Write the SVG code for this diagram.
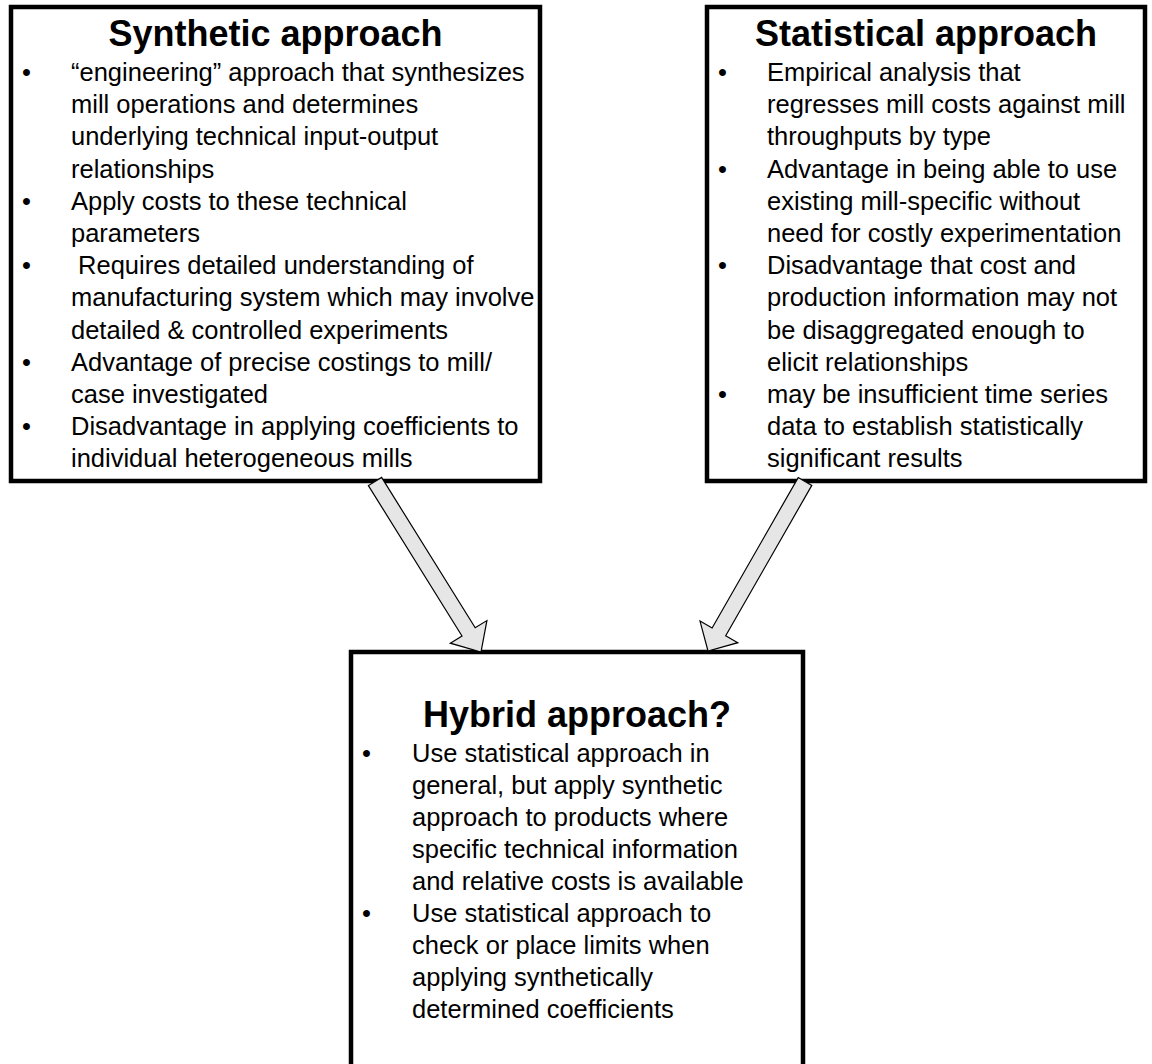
<svg xmlns="http://www.w3.org/2000/svg" width="1152" height="1064" viewBox="0 0 1152 1064">
<style>
.box{fill:#fff;stroke:#000;stroke-width:4.5}
.title{font-family:"Liberation Sans",Arial,sans-serif;font-weight:bold;font-size:36px;text-anchor:middle;fill:#000}
.body{font-family:"Liberation Sans",Arial,sans-serif;font-size:25.5px;fill:#000}
.arrow{fill:#e6e6e6;stroke:#000;stroke-width:1.2;stroke-linejoin:miter}
</style>
<rect width="1152" height="1064" fill="#fff"/>
<g id="synthetic">
<rect class="box" x="11" y="7" width="529" height="474"/>
<text class="title" x="275.5" y="46">Synthetic approach</text>
<text class="body" xml:space="preserve">
<tspan x="22" y="81">•</tspan><tspan x="71" y="81">“engineering” approach that synthesizes</tspan>
<tspan x="71" y="113.2">mill operations and determines</tspan>
<tspan x="71" y="145.4">underlying technical input-output</tspan>
<tspan x="71" y="177.6">relationships</tspan>
<tspan x="22" y="209.8">•</tspan><tspan x="71" y="209.8">Apply costs to these technical</tspan>
<tspan x="71" y="242">parameters</tspan>
<tspan x="22" y="274.2">•</tspan><tspan x="71" y="274.2"> Requires detailed understanding of</tspan>
<tspan x="71" y="306.4">manufacturing system which may involve</tspan>
<tspan x="71" y="338.6">detailed &amp; controlled experiments</tspan>
<tspan x="22" y="370.8">•</tspan><tspan x="71" y="370.8">Advantage of precise costings to mill/</tspan>
<tspan x="71" y="403">case investigated</tspan>
<tspan x="22" y="435.2">•</tspan><tspan x="71" y="435.2">Disadvantage in applying coefficients to</tspan>
<tspan x="71" y="467.4">individual heterogeneous mills</tspan>
</text>
</g>
<g id="statistical">
<rect class="box" x="707" y="7" width="438" height="474"/>
<text class="title" x="926" y="46">Statistical approach</text>
<text class="body">
<tspan x="718" y="81">•</tspan><tspan x="767" y="81">Empirical analysis that</tspan>
<tspan x="767" y="113.2">regresses mill costs against mill</tspan>
<tspan x="767" y="145.4">throughputs by type</tspan>
<tspan x="718" y="177.6">•</tspan><tspan x="767" y="177.6">Advantage in being able to use</tspan>
<tspan x="767" y="209.8">existing mill-specific without</tspan>
<tspan x="767" y="242">need for costly experimentation</tspan>
<tspan x="718" y="274.2">•</tspan><tspan x="767" y="274.2">Disadvantage that cost and</tspan>
<tspan x="767" y="306.4">production information may not</tspan>
<tspan x="767" y="338.6">be disaggregated enough to</tspan>
<tspan x="767" y="370.8">elicit relationships</tspan>
<tspan x="718" y="403">•</tspan><tspan x="767" y="403">may be insufficient time series</tspan>
<tspan x="767" y="435.2">data to establish statistically</tspan>
<tspan x="767" y="467.4">significant results</tspan>
</text>
</g>
<g id="hybrid">
<rect class="box" x="351" y="652" width="452" height="430"/>
<text class="title" x="577" y="727">Hybrid approach?</text>
<text class="body">
<tspan x="362" y="762">•</tspan><tspan x="412" y="762">Use statistical approach in</tspan>
<tspan x="412" y="794">general, but apply synthetic</tspan>
<tspan x="412" y="826">approach to products where</tspan>
<tspan x="412" y="858">specific technical information</tspan>
<tspan x="412" y="890">and relative costs is available</tspan>
<tspan x="362" y="922">•</tspan><tspan x="412" y="922">Use statistical approach to</tspan>
<tspan x="412" y="954">check or place limits when</tspan>
<tspan x="412" y="986">applying synthetically</tspan>
<tspan x="412" y="1018">determined coefficients</tspan>
</text>
</g>
<g id="connectors">
<polygon class="arrow" points="381.6,477.4 475.2,627.8 486.9,620.6 481,652 450.3,643.2 462,636 368.4,485.6"/>
<polygon class="arrow" points="811.8,485.4 725.7,635.8 737.8,642.7 708,651 700,621.1 712.1,628 798.2,477.6"/>
</g>
</svg>
